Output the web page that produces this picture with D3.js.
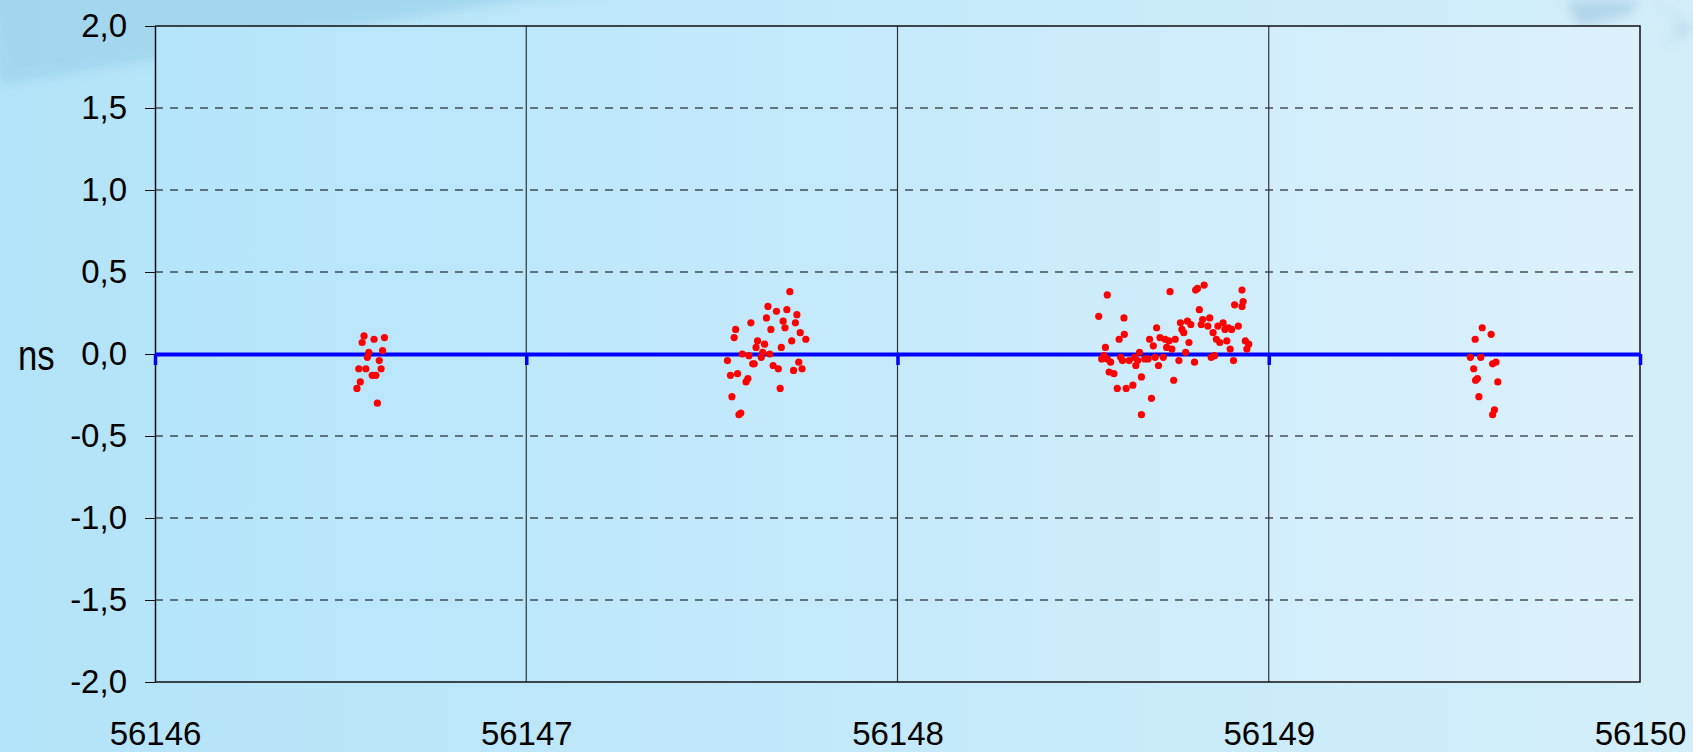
<!DOCTYPE html>
<html>
<head>
<meta charset="utf-8">
<script src="https://cdn.jsdelivr.net/npm/d3@7"></script>
<style>
  html, body { margin: 0; padding: 0; background: #b8e5f9; overflow: hidden; }
  svg { display: block; font-family: "Liberation Sans", Arial, sans-serif; }
</style>
</head>
<body>
<svg id="chart"></svg>
<script>
// tick values
const xTicks = [56146, 56147, 56148, 56149, 56150];
const yTicks = [-2, -1.5, -1, -0.5, 0, 0.5, 1, 1.5, 2];

// session 1 (MJD 56146)
const day1Mjd = [56146.563, 56146.558, 56146.590, 56146.618, 56146.576, 56146.572, 56146.613, 56146.604,
  56146.549, 56146.568, 56146.609, 56146.585, 56146.595, 56146.553, 56146.544, 56146.599];
const day1Ns = [0.11, 0.07, 0.09, 0.10, 0.01, -0.02, 0.02, -0.04,
  -0.09, -0.09, -0.09, -0.13, -0.13, -0.17, -0.21, -0.30];

// session 2 (MJD 56147)
const day2Mjd = [56147.710, 56147.651, 56147.674, 56147.702, 56147.729, 56147.647, 56147.605, 56147.692,
  56147.725, 56147.564, 56147.659, 56147.697, 56147.738, 56147.560, 56147.623, 56147.753, 56147.715,
  56147.642, 56147.619, 56147.687, 56147.637, 56147.582, 56147.656, 56147.600, 56147.633, 56147.542,
  56147.734, 56147.610, 56147.614, 56147.665, 56147.679, 56147.743, 56147.720, 56147.569, 56147.550,
  56147.597, 56147.592, 56147.684, 56147.554, 56147.578, 56147.573];
const day2Ns = [0.38, 0.29, 0.26, 0.27, 0.24, 0.22, 0.19, 0.20,
  0.19, 0.15, 0.15, 0.16, 0.13, 0.10, 0.08, 0.09, 0.08,
  0.06, 0.04, 0.04, 0.01, 0.00, 0.00, -0.01, -0.02, -0.04,
  -0.05, -0.06, -0.06, -0.07, -0.09, -0.09, -0.10, -0.12, -0.13,
  -0.15, -0.17, -0.21, -0.26, -0.36, -0.37];

// session 3 (MJD 56148)
const day3Mjd = [56148.826, 56148.808, 56148.803, 56148.928, 56148.565, 56148.734, 56148.931, 56148.908,
  56148.928, 56148.813, 56148.542, 56148.610, 56148.841, 56148.822, 56148.781, 56148.762, 56148.877,
  56148.790, 56148.818, 56148.836, 56148.863, 56148.918, 56148.698, 56148.766, 56148.891, 56148.900,
  56148.882, 56148.771, 56148.850, 56148.611, 56148.707, 56148.721, 56148.748, 56148.679, 56148.597,
  56148.731, 56148.859, 56148.868, 56148.887, 56148.937, 56148.946, 56148.785, 56148.689, 56148.725,
  56148.739, 56148.560, 56148.896, 56148.941, 56148.652, 56148.776, 56148.556, 56148.550, 56148.565,
  56148.574, 56148.601, 56148.606, 56148.624, 56148.638, 56148.647, 56148.666, 56148.675, 56148.694,
  56148.716, 56148.758, 56148.845, 56148.854, 56148.905, 56148.642, 56148.703, 56148.800, 56148.570,
  56148.583, 56148.657, 56148.744, 56148.592, 56148.616, 56148.634, 56148.684, 56148.657];
const day3Ns = [0.42, 0.40, 0.39, 0.39, 0.36, 0.38, 0.32, 0.30,
  0.29, 0.27, 0.23, 0.22, 0.22, 0.21, 0.20, 0.19, 0.19,
  0.18, 0.18, 0.17, 0.17, 0.17, 0.16, 0.15, 0.16, 0.15,
  0.15, 0.13, 0.13, 0.12, 0.10, 0.09, 0.09, 0.09, 0.09,
  0.08, 0.09, 0.07, 0.08, 0.08, 0.06, 0.07, 0.05, 0.04,
  0.03, 0.04, 0.03, 0.03, 0.01, 0.01, -0.01, -0.03, -0.03,
  -0.05, -0.02, -0.04, -0.04, -0.02, -0.04, -0.03, -0.03, -0.02,
  -0.02, -0.04, -0.02, -0.01, -0.04, -0.07, -0.07, -0.05, -0.11,
  -0.12, -0.14, -0.16, -0.21, -0.21, -0.19, -0.27, -0.37];

// session 4 (MJD 56149)
const day4Mjd = [56149.575, 56149.599, 56149.556, 56149.543, 56149.571, 56149.603, 56149.612, 56149.552,
  56149.562, 56149.557, 56149.617, 56149.566, 56149.608, 56149.603];
const day4Ns = [0.16, 0.12, 0.09, -0.02, -0.02, -0.06, -0.05, -0.09,
  -0.15, -0.16, -0.17, -0.26, -0.34, -0.37];

const width = 1693, height = 752;
const plot = { left: 155, top: 26, right: 1640, bottom: 682 };

const svg = d3.select('#chart').attr('width', width).attr('height', height);
const defs = svg.append('defs');

const bgGrad = defs.append('linearGradient').attr('id', 'bg').attr('x1', 0).attr('x2', 1).attr('y1', 0).attr('y2', 0);
bgGrad.append('stop').attr('offset', '0%').attr('stop-color', '#b3e3f8');
bgGrad.append('stop').attr('offset', '55%').attr('stop-color', '#c4e9fa');
bgGrad.append('stop').attr('offset', '100%').attr('stop-color', '#d3eef9');

const plotGrad = defs.append('linearGradient').attr('id', 'plotbg').attr('x1', 0).attr('x2', 1).attr('y1', 0).attr('y2', 0);
plotGrad.append('stop').attr('offset', '0%').attr('stop-color', '#b5e5fb');
plotGrad.append('stop').attr('offset', '50%').attr('stop-color', '#c6eafb');
plotGrad.append('stop').attr('offset', '100%').attr('stop-color', '#ddf1fc');

defs.append('filter').attr('id', 'soft').append('feGaussianBlur').attr('stdDeviation', 6);

svg.append('rect').attr('width', width).attr('height', height).attr('fill', 'url(#bg)');

// decorative background shapes
svg.append('path')
  .attr('d', 'M-20,-20 L700,-20 L520,0 L0,85 Z')
  .attr('fill', '#9fd4ec').attr('opacity', 0.8).attr('filter', 'url(#soft)');
svg.append('path')
  .attr('d', 'M1565,0 L1640,0 L1630,14 L1580,28 Z')
  .attr('fill', '#b3d6ea').attr('filter', 'url(#soft)');
svg.append('path')
  .attr('d', 'M1655,0 L1690,25 L1693,32 L1665,45 L1680,26 Z')
  .attr('fill', '#c0ddef').attr('filter', 'url(#soft)');

const x = d3.scaleLinear().domain([56146, 56150]).range([plot.left, plot.right]);
const y = d3.scaleLinear().domain([-2, 2]).range([plot.bottom, plot.top]);

const locale = d3.formatLocale({ decimal: ',', thousands: '.', grouping: [3], currency: ['', ''], minus: '-' });
const yFormat = locale.format('.1f');

svg.append('rect')
  .attr('x', plot.left).attr('y', plot.top)
  .attr('width', plot.right - plot.left).attr('height', plot.bottom - plot.top)
  .attr('fill', 'url(#plotbg)');

// horizontal dashed grid
svg.append('g')
  .selectAll('line')
  .data(yTicks.filter(d => Math.abs(d) < 2))
  .enter()
  .append('line')
  .attr('x1', plot.left).attr('x2', plot.right)
  .attr('y1', d => y(d)).attr('y2', d => y(d))
  .attr('stroke', '#000').attr('stroke-width', 1.2)
  .attr('stroke-dasharray', '8,7');

// vertical grid
svg.append('g')
  .selectAll('line')
  .data(xTicks.slice(1, -1))
  .enter()
  .append('line')
  .attr('x1', d => x(d)).attr('x2', d => x(d))
  .attr('y1', plot.top).attr('y2', plot.bottom)
  .attr('stroke', '#2e3338').attr('stroke-width', 1.2);

// frame top / right / bottom
svg.append('path')
  .attr('d', `M${plot.left},${plot.top}H${plot.right}V${plot.bottom}H${plot.left}`)
  .attr('fill', 'none').attr('stroke', '#111').attr('stroke-width', 1.5);

// y axis
const yAxis = svg.append('g')
  .attr('transform', `translate(${plot.left},0)`)
  .call(d3.axisLeft(y).tickValues(yTicks).tickFormat(yFormat).tickSize(10).tickSizeOuter(0).tickPadding(18));
yAxis.select('.domain').attr('stroke', '#111').attr('stroke-width', 1.5);
yAxis.selectAll('.tick line').attr('stroke', '#111');
yAxis.selectAll('text')
  .style('font-size', '33px')
  .style('font-family', '"Liberation Sans", Arial, sans-serif')
  .attr('fill', '#000');

// x axis labels at bottom
const xAxis = svg.append('g')
  .attr('transform', `translate(0,${plot.bottom})`)
  .call(d3.axisBottom(x).tickValues(xTicks).tickFormat(d3.format('d')).tickSize(0));
xAxis.select('.domain').remove();
xAxis.selectAll('text')
  .attr('y', 63).attr('dy', 0)
  .style('font-size', '33px')
  .style('font-family', '"Liberation Sans", Arial, sans-serif')
  .attr('fill', '#000');

// blue zero line with ticks
const zeroAxis = svg.append('g')
  .attr('transform', `translate(0,${y(0)})`)
  .call(d3.axisBottom(x).tickValues(xTicks).tickFormat('').tickSize(11).tickSizeOuter(0));
zeroAxis.select('.domain').attr('stroke', '#0000ff').attr('stroke-width', 4);
zeroAxis.selectAll('.tick line').attr('stroke', '#0000ff').attr('stroke-width', 3.5);

// unit label
svg.append('text')
  .attr('transform', `translate(18,${y(0) + 16}) scale(1.02,1.25)`)
  .style('font-size', '34px')
  .attr('fill', '#000')
  .text('ns');

// points
const sessions = [[day1Mjd, day1Ns], [day2Mjd, day2Ns], [day3Mjd, day3Ns], [day4Mjd, day4Ns]];
const points = [];
sessions.forEach(([mjd, ns]) => mjd.forEach((m, i) => points.push({ mjd: m, ns: ns[i] })));

svg.append('g')
  .selectAll('circle')
  .data(points)
  .enter()
  .append('circle')
  .attr('cx', d => x(d.mjd))
  .attr('cy', d => y(d.ns))
  .attr('r', 3.6)
  .attr('fill', '#ff0000');
</script>
</body>
</html>
